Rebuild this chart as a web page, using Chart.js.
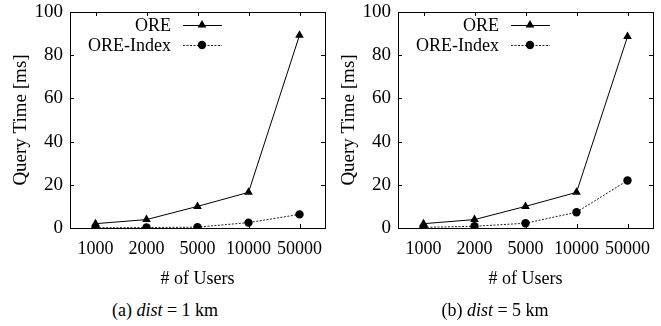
<!DOCTYPE html>
<html>
<head>
<meta charset="utf-8">
<script src="https://cdn.jsdelivr.net/npm/chart.js@4.4.1/dist/chart.umd.min.js"></script>
<style>
  body { margin: 0; background: #fff; }
  #fig { position: relative; width: 661px; height: 326px; font-family: "Liberation Serif", "DejaVu Serif", serif; }
  canvas { position: absolute; top: 0; }
  .caption { position: absolute; top: 300px; width: 330px; text-align: center; font-size: 18px; color: #000; }
  .caption i { font-style: italic; }
</style>
</head>
<body>
<div id="fig">
  <canvas id="graficaA" width="330" height="294" style="left:0px"></canvas>
  <canvas id="graficaB" width="330" height="294" style="left:328px"></canvas>
  <div class="caption" style="left:0px">(a) <i>dist</i> = 1 km</div>
  <div class="caption" style="left:330px">(b) <i>dist</i> = 5 km</div>
</div>
<script>
var usuarios = ['1000', '2000', '5000', '10000', '50000'];
var yTicks = [0, 20, 40, 60, 80, 100];

// dist = 1 km
var oreA = [2.0, 3.9, 10.0, 16.5, 89.2];
var oreIndexA = [0.1, 0.2, 0.4, 2.5, 6.3];

// dist = 5 km
var oreB = [2.0, 3.9, 10.0, 16.5, 88.6];
var oreIndexB = [0.3, 0.8, 2.2, 7.3, 22.0];

var fuente = '"Liberation Serif", "Times New Roman", serif';

// frame with inward ticks on all four sides
var marcoPlugin = {
    id: 'marco',
    afterDraw: function (chart) {
        var ctx = chart.ctx;
        var a = chart.chartArea;
        var t = 4;
        ctx.save();
        ctx.strokeStyle = '#000';
        ctx.lineWidth = 1;
        ctx.strokeRect(Math.round(a.left) + 0.5, Math.round(a.top) + 0.5, Math.round(a.right - a.left), Math.round(a.bottom - a.top));
        ctx.beginPath();
        var ys = chart.scales.y;
        for (var i = 0; i < ys.ticks.length; i++) {
            var py = Math.round(ys.getPixelForTick(i)) + 0.5;
            ctx.moveTo(a.left, py); ctx.lineTo(a.left + t, py);
            ctx.moveTo(a.right, py); ctx.lineTo(a.right - t, py);
        }
        var xs = chart.scales.x;
        for (var j = 0; j < xs.ticks.length; j++) {
            var px = Math.round(xs.getPixelForTick(j)) + 0.5;
            ctx.moveTo(px, a.bottom); ctx.lineTo(px, a.bottom - t);
            ctx.moveTo(px, a.top); ctx.lineTo(px, a.top + t);
        }
        ctx.stroke();
        ctx.restore();
    }
};

// legend: text on the left, line sample with marker on the right
var leyendaPlugin = {
    id: 'leyenda',
    afterDraw: function (chart) {
        var ctx = chart.ctx;
        ctx.save();
        ctx.font = '18px ' + fuente;
        ctx.textAlign = 'right';
        ctx.textBaseline = 'middle';
        chart.data.datasets.forEach(function (ds, k) {
            var y = 25 + k * 20;
            ctx.fillStyle = '#000';
            ctx.fillText(ds.label, 171, y + 1);
            ctx.strokeStyle = ds.borderColor;
            ctx.lineWidth = 1;
            ctx.setLineDash(ds.borderDash || []);
            ctx.beginPath();
            ctx.moveTo(183, y + 0.5);
            ctx.lineTo(222, y + 0.5);
            ctx.stroke();
            ctx.setLineDash([]);
            ctx.fillStyle = '#000';
            ctx.beginPath();
            var cx = 202, r = ds.pointRadius;
            if (ds.pointStyle === 'triangle') {
                ctx.moveTo(cx, y - r);
                ctx.lineTo(cx + r * 0.866, y + r / 2);
                ctx.lineTo(cx - r * 0.866, y + r / 2);
                ctx.closePath();
            } else {
                ctx.arc(cx, y, r, 0, Math.PI * 2);
            }
            ctx.fill();
        });
        ctx.restore();
    }
};

function crearGrafica(id, ore, oreIndex) {
    var ctx = document.getElementById(id).getContext('2d');
    return new Chart(ctx, {
        type: 'line',
        data: {
            labels: usuarios,
            datasets: [{
                label: 'ORE',
                data: ore,
                borderColor: '#000',
                backgroundColor: '#000',
                borderWidth: 1,
                pointStyle: 'triangle',
                pointRadius: 5,
                pointBorderWidth: 0,
                tension: 0
            }, {
                label: 'ORE-Index',
                data: oreIndex,
                borderColor: '#222',
                backgroundColor: '#000',
                borderWidth: 1,
                borderDash: [2, 1.5],
                pointStyle: 'circle',
                pointRadius: 4.2,
                pointBorderWidth: 0,
                tension: 0
            }]
        },
        options: {
            responsive: false,
            animation: false,
            devicePixelRatio: 1,
            layout: { padding: { top: 12, right: 5, left: 0, bottom: 0 } },
            plugins: { legend: { display: false }, tooltip: { enabled: false } },
            scales: {
                x: {
                    offset: true,
                    grid: { display: false, drawTicks: false },
                    border: { display: false },
                    ticks: { color: '#000', font: { family: fuente, size: 18 }, padding: 10, maxRotation: 0, autoSkip: false },
                    title: { display: true, text: '# of Users', color: '#000', font: { family: fuente, size: 18 }, padding: { top: 4, bottom: 4 } },
                    afterFit: function (s) { s.height = 66; s.paddingLeft = 0; s.paddingRight = 0; }
                },
                y: {
                    min: 0,
                    max: 100,
                    afterBuildTicks: function (s) { s.ticks = yTicks.map(function (v) { return { value: v }; }); },
                    grid: { display: false, drawTicks: false },
                    border: { display: false },
                    ticks: { color: '#000', font: { family: fuente, size: 19 }, padding: 7 },
                    title: { display: true, text: 'Query Time [ms]', color: '#000', font: { family: fuente, size: 19 }, padding: { top: 10, bottom: 0 } },
                    afterFit: function (s) { s.width = 70; s.paddingTop = 0; s.paddingBottom = 0; }
                }
            }
        },
        plugins: [marcoPlugin, leyendaPlugin]
    });
}

crearGrafica('graficaA', oreA, oreIndexA);
crearGrafica('graficaB', oreB, oreIndexB);
</script>
</body>
</html>
